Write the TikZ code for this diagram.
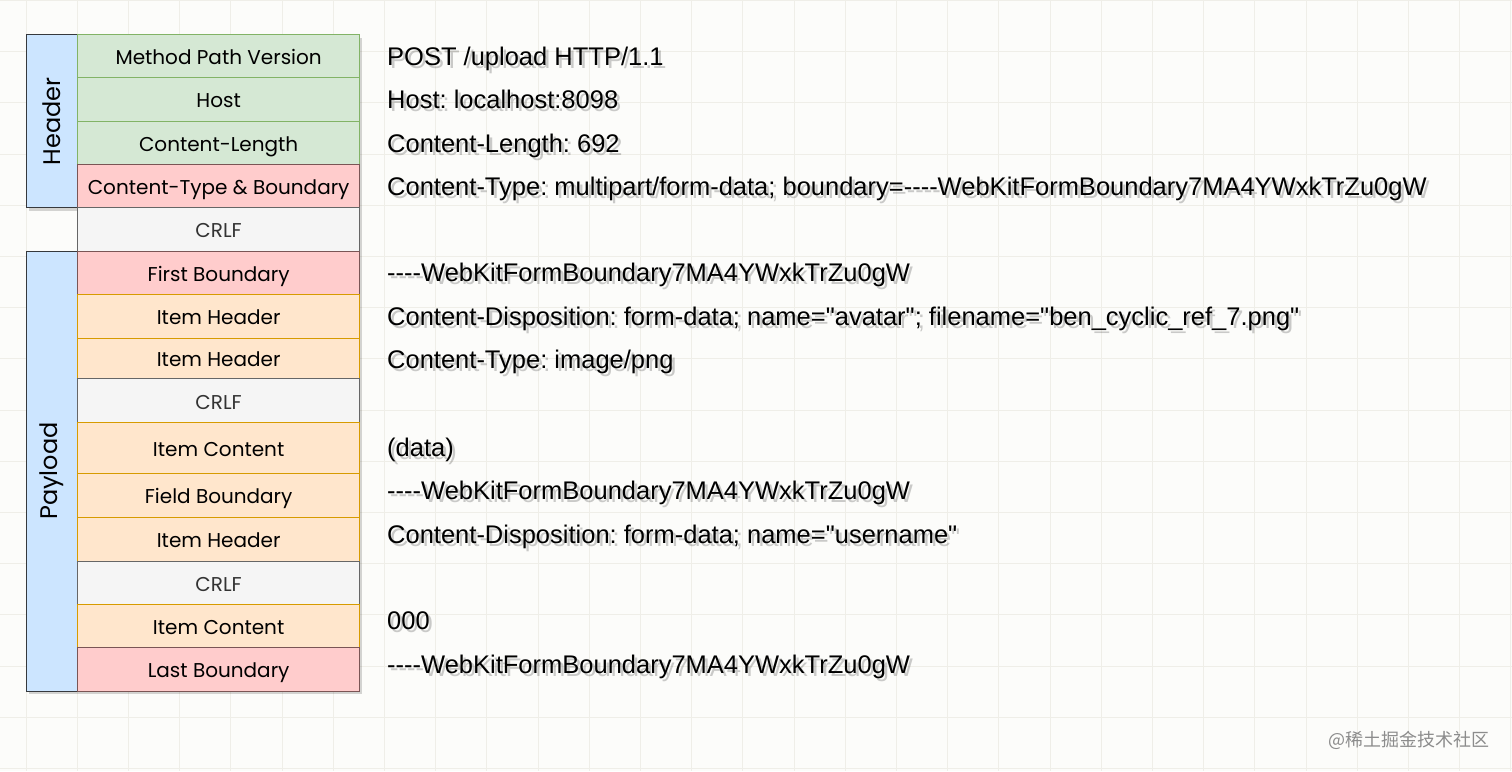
\documentclass[tikz,border=0pt]{standalone}
\usepackage{fontspec}
\setmainfont{Liberation Sans}[Ligatures=TeXOff]
\newfontfamily\boxfont{Poppins}[Ligatures=TeXOff]
\newfontfamily\cjkfont{Noto Sans CJK SC}
\frenchspacing
\definecolor{bgc}{HTML}{FCFCFA}
\definecolor{gridc}{HTML}{EFEEE8}
\definecolor{cgreen}{HTML}{D5E8D4}
\definecolor{sgreen}{HTML}{82B366}
\definecolor{cred}{HTML}{FFCCCC}
\definecolor{sred}{HTML}{7A5555}
\definecolor{sdark}{HTML}{36393D}
\definecolor{corange}{HTML}{FFE6CC}
\definecolor{sorange}{HTML}{D79B00}
\definecolor{cgray}{HTML}{F5F5F5}
\definecolor{sgray}{HTML}{666666}
\definecolor{cblue}{HTML}{CCE5FF}
\tikzset{
  cell/.style={draw, line width=1pt, minimum width=281.7pt, inner sep=0pt, anchor=north west,
    font=\boxfont\fontsize{20}{23}\selectfont, text=black, text height=16.6pt, text depth=0pt},
  grn/.style={fill=cgreen, draw=sgreen},
  rd/.style={fill=cred, draw=sred},
  org/.style={fill=corange, draw=sorange},
  gry/.style={fill=cgray, draw=sgray, text=black!80},
  blu/.style={fill=cblue, draw=sdark, minimum width=51.3pt},
  side/.style={rotate=90, font=\boxfont\fontsize{24}{28}\selectfont, inner sep=0pt},
  rtext/.style={anchor=base west, inner sep=0pt, font=\fontsize{25.5}{29}\selectfont},
  shd/.style={rtext, text=black, opacity=0.2},
  boxshadow/.style={fill=black, opacity=0.16},
}
\newcommand\rline[3]{%
  \node[shd] at (390,#2+3) {#3};
  \node[rtext] (#1) at (387,#2) {#3};}
\begin{document}
\begin{tikzpicture}[x=1pt,y=-1pt]
\useasboundingbox (0,0) rectangle (1512,771);
\fill[bgc] (0,0) rectangle (1512,771);
\foreach \k in {0,...,29} \draw[gridc, line width=1pt] (26+51.2*\k,0) -- (26+51.2*\k,771);
\foreach \k in {0,...,15} \draw[gridc, line width=1pt] (0,0.4+51.2*\k) -- (1512,0.4+51.2*\k);
% shadows
\fill[boxshadow] (29,37.5) rectangle (362,210.8);
\fill[boxshadow] (80.3,210.8) rectangle (362,694.2);
\fill[boxshadow] (29,254.2) rectangle (80.3,694.2);
% header group
\node[cell, blu, minimum height=173.3pt] (hdr) at (26,34) {};
\node[side] (hdrlab) at (hdr.center) {Header};
\node[cell, grn, minimum height=43.3pt] (mpv) at (77.3,34) {Method Path Version};
\node[cell, grn, minimum height=43.4pt] (host) at (77.3,77.3) {Host};
\node[cell, grn, minimum height=43.3pt] (clen) at (77.3,120.7) {Content-Length};
\node[cell, rd, minimum height=43.3pt] (ctype) at (77.3,164) {Content-Type \& Boundary};
\node[cell, gry, minimum height=43.4pt] (crlf1) at (77.3,207.3) {CRLF};
% payload group
\node[cell, blu, minimum height=440pt] (pay) at (26,250.7) {};
\node[side] (paylab) at (pay.center) {Payload};
\node[cell, rd, minimum height=43.6pt] (fb) at (77.3,250.7) {First Boundary};
\node[cell, org, minimum height=43.4pt] (ih1) at (77.3,294.3) {Item Header};
\node[cell, org, minimum height=40.6pt] (ih2) at (77.3,337.7) {Item Header};
\node[cell, gry, minimum height=44pt] (crlf2) at (77.3,378.3) {CRLF};
\node[cell, org, minimum height=51pt] (ic1) at (77.3,422.3) {Item Content};
\node[cell, org, minimum height=43.4pt] (fdb) at (77.3,473.3) {Field Boundary};
\node[cell, org, minimum height=44pt] (ih3) at (77.3,516.7) {Item Header};
\node[cell, gry, minimum height=43.3pt] (crlf3) at (77.3,560.7) {CRLF};
\node[cell, org, minimum height=43.3pt] (ic2) at (77.3,604) {Item Content};
\node[cell, rd, minimum height=43.4pt] (lb) at (77.3,647.3) {Last Boundary};
% right texts
\rline{t1}{65}{POST /upload HTTP/1.1}
\rline{t2}{108.5}{Host: localhost:8098}
\rline{t3}{152}{Content-Length: 692}
\rline{t4}{195.5}{Content-Type: multipart/form-data; boundary=----WebKitFormBoundary7MA4YWxkTrZu0gW}
\rline{t5}{281.5}{----WebKitFormBoundary7MA4YWxkTrZu0gW}
\rline{t6}{325.5}{Content-Disposition: form-data; name="avatar"; filename="ben\_cyclic\_ref\_7.png"}
\rline{t7}{368.5}{Content-Type: image/png}
\rline{t8}{456.5}{(data)}
\rline{t9}{499.5}{----WebKitFormBoundary7MA4YWxkTrZu0gW}
\rline{t10}{543.5}{Content-Disposition: form-data; name="username"}
\rline{t11}{629.5}{000}
\rline{t12}{673.5}{----WebKitFormBoundary7MA4YWxkTrZu0gW}
\node[anchor=east, inner sep=0pt, font=\cjkfont\fontsize{18}{20}\selectfont, text=black!45] (wm) at (1490,740) {@稀土掘金技术社区};
\end{tikzpicture}
\end{document}
